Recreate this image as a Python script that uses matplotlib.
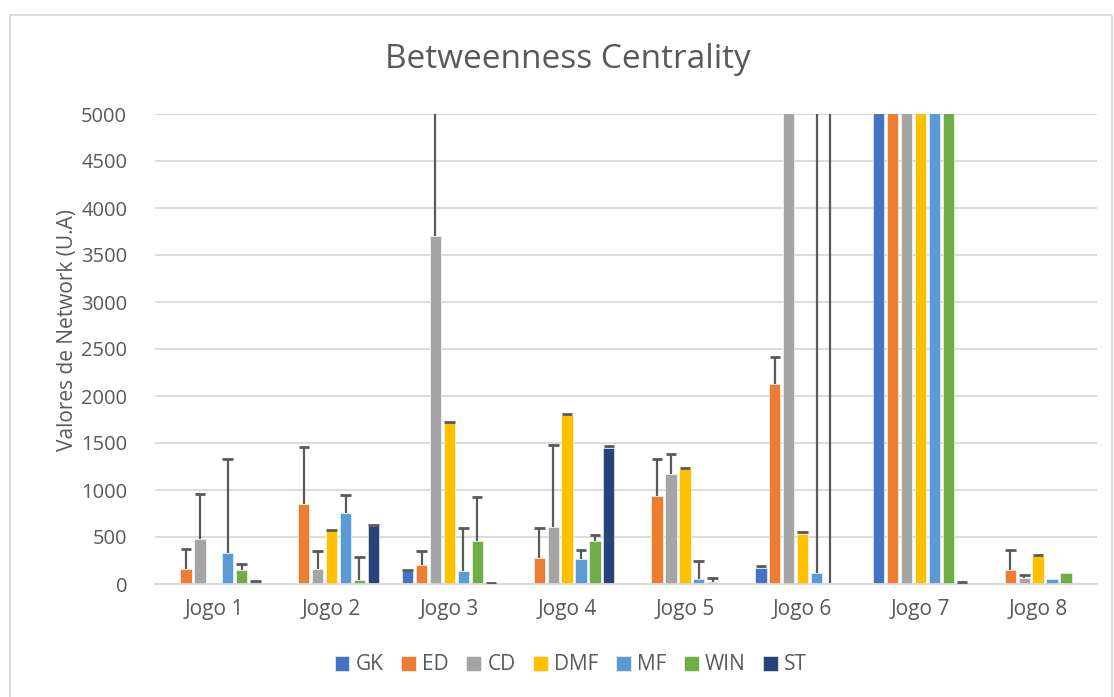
import matplotlib.pyplot as plt
import numpy as np
from matplotlib.lines import Line2D

# data (values above 5000 are clipped by the axis)
games = ["Jogo 1", "Jogo 2", "Jogo 3", "Jogo 4", "Jogo 5", "Jogo 6", "Jogo 7", "Jogo 8"]
positions = ["GK", "ED", "CD", "DMF", "MF", "WIN", "ST"]

GK = [5, 5, 140, 5, 5, 175, 7000, 5]
ED = [160, 855, 200, 280, 935, 2125, 7000, 145]
CD = [475, 155, 3700, 605, 1175, 7000, 7000, 60]
DMF = [5, 560, 1710, 1800, 1220, 535, 7000, 295]
MF = [330, 760, 140, 270, 50, 120, 7000, 50]
WIN = [145, 40, 455, 455, 20, 12, 7000, 120]
ST = [20, 615, 10, 1450, 5, 5, 15, 5]

GK_err = [0, 0, 10, 0, 0, 15, 0, 0]
ED_err = [210, 600, 150, 320, 390, 290, 0, 215]
CD_err = [485, 195, 3000, 875, 205, 0, 0, 40]
DMF_err = [0, 15, 15, 10, 10, 15, 0, 12]
MF_err = [995, 190, 455, 95, 190, 6000, 0, 0]
WIN_err = [65, 245, 475, 65, 40, 6000, 0, 0]
ST_err = [10, 10, 5, 15, 0, 0, 10, 0]

series = [GK, ED, CD, DMF, MF, WIN, ST]
errors = [GK_err, ED_err, CD_err, DMF_err, MF_err, WIN_err, ST_err]
colors = ["#4472c4", "#ed7d31", "#a5a5a5", "#ffc000", "#5b9bd5", "#70ad47", "#264478"]

txt = "#595959"
plt.rcParams['font.family'] = ['Open Sans', 'DejaVu Sans']

fig = plt.figure(figsize=(11.14, 6.97), dpi=100)
W, H = 1114, 697
ax = fig.add_axes([155 / W, (H - 584) / H, 942 / W, 470 / H])

x = np.arange(len(games))
step, width = 0.118, 0.096
for j, (vals, errs, c) in enumerate(zip(series, errors, colors)):
    xs = x + (j - 3) * step
    ax.bar(xs, vals, width, color=c, edgecolor="white", linewidth=0.4,
           label=positions[j], zorder=2)
    tops = np.array(vals, dtype=float)
    errs = np.array(errs, dtype=float)
    m = errs > 0
    ax.vlines(xs[m], tops[m], tops[m] + errs[m], color=txt, lw=1.6, zorder=3)
    ax.hlines(tops[m] + errs[m], xs[m] - 0.045, xs[m] + 0.045, color=txt, lw=2.0, zorder=3)

ax.set_ylim(0, 5000)
ax.set_xlim(-0.5, len(games) - 0.5)
ax.set_yticks(np.arange(0, 5001, 500))
ax.set_xticks(x)
ax.set_xticklabels(games)
ax.grid(axis="y", color="#d9d9d9", lw=1.3, zorder=0)
ax.set_axisbelow(True)
for s in ["top", "right", "left"]:
    ax.spines[s].set_visible(False)
ax.spines["bottom"].set_color("#d9d9d9")
ax.spines["bottom"].set_linewidth(1.3)
ax.tick_params(axis="y", length=0, pad=20, labelsize=14.5, labelcolor=txt)
ax.tick_params(axis="x", length=0, pad=11, labelsize=15, labelcolor=txt)
ax.set_ylabel("Valores de Network (U.A)", fontsize=15, color=txt, va="center")
ax.yaxis.set_label_coords((67 - 155) / 942, (584 - 330) / 470)

fig.text(568 / W, 1 - 60 / H, "Betweenness Centrality", ha="center", va="center",
         fontsize=24, color=txt)

handles, labels = ax.get_legend_handles_labels()
fig.legend(handles, labels, loc="center", bbox_to_anchor=(571 / W, 1 - 665 / H),
           ncol=7, frameon=False, fontsize=15, labelcolor=txt,
           handlelength=0.7, handleheight=0.7, handletextpad=0.3, columnspacing=0.85)

# chart border
fig.add_artist(Line2D([10 / W, 10 / W, 1112 / W, 1112 / W], [0, 1 - 15 / H, 1 - 15 / H, 0],
                      transform=fig.transFigure, color="#d9d9d9", lw=1.3))

fig.savefig("out.png", dpi=100)
